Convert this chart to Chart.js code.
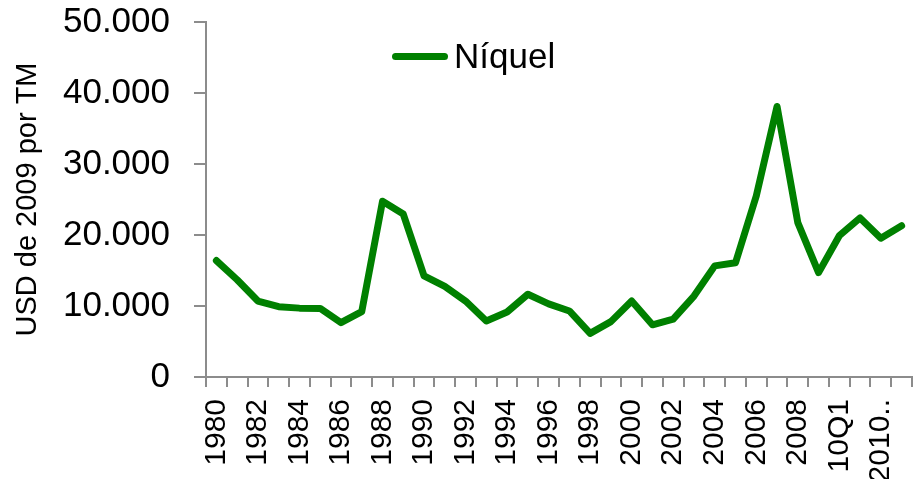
<!DOCTYPE html>
<html>
<head>
<meta charset="utf-8">
<script src="https://cdn.jsdelivr.net/npm/chart.js@4"></script>
<style>
    body { margin: 0; background: #fff; }
    #wrap { position: relative; width: 920px; height: 479px; }
    #legend {
        position: absolute; left: 392px; top: 36px;
        font-family: "Liberation Sans", Arial, sans-serif; font-size: 35px; color: #000;
        display: flex; align-items: center; white-space: nowrap;
    }
    #legend .swatch { width: 56px; height: 7px; background: #008000; border-radius: 4px; margin-right: 6px; }
</style>
</head>
<body>
<div id="wrap">
    <canvas id="nickelChart" width="920" height="479"></canvas>
    <div id="legend"><span class="swatch"></span><span id="legendText"></span></div>
</div>
<script>
// --- Data ---
const years = ['1980', '1981', '1982', '1983', '1984', '1985', '1986', '1987', '1988', '1989',
    '1990', '1991', '1992', '1993', '1994', '1995', '1996', '1997', '1998', '1999',
    '2000', '2001', '2002', '2003', '2004', '2005', '2006', '2007', '2008', '2009',
    '10Q1', '10Q2', '2010..', '10Q4'];
const nickelPrices = [16400, 13700, 10700, 9900, 9700, 9650, 7650, 9200, 24750, 22950,
    14250, 12750, 10700, 7900, 9150, 11650, 10300, 9300, 6150, 7800,
    10700, 7350, 8150, 11400, 15650, 16100, 25500, 38100, 21750, 14700,
    19900, 22400, 19550, 21300];
const seriesName = 'Níquel';
const yTicks = [0, 10000, 20000, 30000, 40000, 50000];

const axisColor = '#8c8c8c';
const fontFamily = '"Liberation Sans", Arial, sans-serif';

document.getElementById('legendText').textContent = seriesName;

const ctx = document.getElementById('nickelChart').getContext('2d');
new Chart(ctx, {
    type: 'line',
    data: {
        labels: years,
        datasets: [{
            label: seriesName,
            data: nickelPrices,
            borderColor: '#008000',
            borderWidth: 7,
            borderJoinStyle: 'round',
            borderCapStyle: 'round',
            pointRadius: 0,
            tension: 0,
            fill: false
        }]
    },
    options: {
        responsive: false,
        animation: false,
        layout: { padding: { top: 0, right: 8, left: 0, bottom: 0 } },
        plugins: {
            legend: { display: false },
            tooltip: { enabled: false }
        },
        scales: {
            x: {
                offset: true,
                grid: {
                    offset: true,
                    drawOnChartArea: false,
                    color: axisColor,
                    lineWidth: 2,
                    tickLength: 10
                },
                border: { color: axisColor, width: 2 },
                ticks: {
                    autoSkip: false,
                    minRotation: 90,
                    maxRotation: 90,
                    padding: 12,
                    color: '#000',
                    font: { family: fontFamily, size: 30 },
                    callback: function (val, i) {
                        return i % 2 === 0 ? this.getLabelForValue(val) : '';
                    }
                },
                afterFit: (scale) => {
                    scale.height = 102;
                    scale.paddingLeft = 0;
                    scale.paddingRight = 0;
                }
            },
            y: {
                min: 0,
                max: 50000,
                afterBuildTicks: (scale) => { scale.ticks = yTicks.map(v => ({ value: v })); },
                grid: {
                    drawOnChartArea: false,
                    color: axisColor,
                    lineWidth: 2,
                    tickLength: 12
                },
                border: { color: axisColor, width: 2 },
                ticks: {
                    padding: 24,
                    color: '#000',
                    font: { family: fontFamily, size: 35 },
                    callback: (v) => v === 0 ? '0' : v.toLocaleString('de-DE')
                },
                title: {
                    display: true,
                    text: 'USD de 2009 por TM',
                    color: '#000',
                    font: { family: fontFamily, size: 29 },
                    padding: { top: 11, bottom: 0 }
                },
                afterFit: (scale) => {
                    scale.width = 206;
                    scale.paddingTop = 22;
                    scale.paddingBottom = 0;
                }
            }
        }
    }
});
</script>
</body>
</html>
